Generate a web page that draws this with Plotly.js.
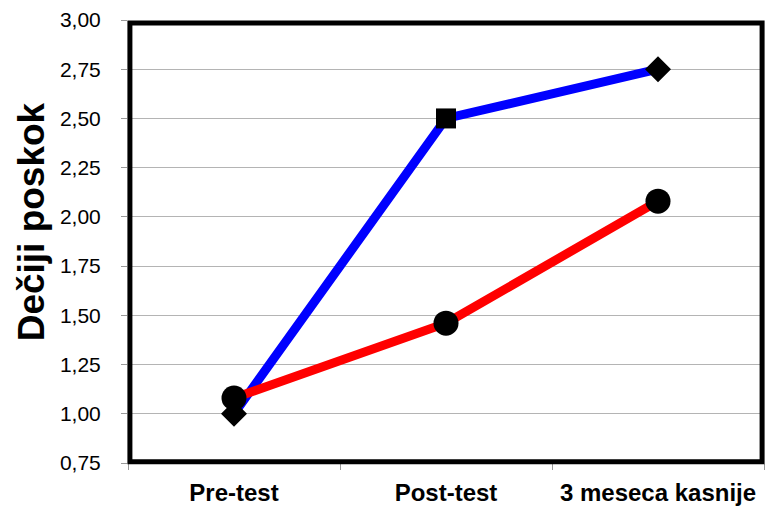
<!DOCTYPE html>
<html>
<head>
<meta charset="utf-8">
<script src="https://cdn.plot.ly/plotly-3.0.1.min.js"></script>
<style>html,body{margin:0;padding:0;background:#fff;}#chart{width:767px;height:510px;}</style>
</head>
<body>
<div id="chart"></div>
<script>
var categories = ['Pre-test', 'Post-test', '3 meseca kasnije'];
var blueValues = [1.00, 2.50, 2.75];
var redValues = [1.08, 1.46, 2.08];
var blueSymbols = ['diamond', 'square', 'diamond'];
var yTicks = [0.75, 1.00, 1.25, 1.50, 1.75, 2.00, 2.25, 2.50, 2.75, 3.00];
var yTitle = 'Dečiji poskok';

var FONT = 'Liberation Sans, Arial, sans-serif';

var traces = [
  {
    x: categories, y: blueValues, type: 'scatter', mode: 'lines+markers',
    line: {color: '#0000FF', width: 9},
    marker: {symbol: blueSymbols, size: 20, color: '#000000', opacity: 1, line: {width: 0}},
    showlegend: false, cliponaxis: false
  },
  {
    x: categories, y: redValues, type: 'scatter', mode: 'lines+markers',
    line: {color: '#FF0000', width: 9},
    marker: {symbol: 'circle', size: 25, color: '#000000', opacity: 1, line: {width: 0}},
    showlegend: false, cliponaxis: false
  }
];

var layout = {
  width: 767, height: 510,
  margin: {l: 128, r: 3, t: 20, b: 47},
  paper_bgcolor: '#ffffff', plot_bgcolor: '#ffffff',
  separators: ',.',
  font: {family: FONT, color: '#000000'},
  xaxis: {
    type: 'category', range: [-0.5, 2.5],
    showgrid: false, zeroline: false, showline: false,
    ticks: 'outside', tickson: 'boundaries', ticklen: 6, tickcolor: '#999999', tickwidth: 1,
    tickfont: {size: 24, family: FONT, weight: 'bold'},
    tickangle: 0, automargin: false,
    ticklabelstandoff: 13
  },
  yaxis: {
    range: [0.75, 3.0], tickvals: yTicks, tickformat: '.2f',
    showgrid: true, gridcolor: '#b4b4b4', gridwidth: 1, zeroline: false, showline: false,
    ticks: 'outside', ticklen: 6, tickcolor: '#999999', tickwidth: 1,
    tickfont: {size: 21, family: FONT},
    ticklabelstandoff: 16
  },
  annotations: [
    {text: yTitle, xref: 'paper', yref: 'paper', x: -0.152, y: 0.544, xanchor: 'center', yanchor: 'middle',
     textangle: -90, showarrow: false, font: {size: 37, family: FONT, weight: 'bold', color: '#000000'}}
  ],
  shapes: [
    {type: 'rect', xref: 'paper', yref: 'paper', x0: 0.003, x1: 0.997, y0: 0.003, y1: 0.993,
     line: {color: '#000000', width: 5}, fillcolor: 'rgba(0,0,0,0)', layer: 'above'}
  ]
};

Plotly.newPlot('chart', traces, layout, {displayModeBar: false, staticPlot: true});
</script>
</body>
</html>
